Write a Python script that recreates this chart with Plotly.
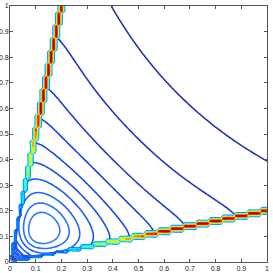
import numpy as np
import plotly.graph_objects as go

# ---- data ----
grid_step = 0.01          # sampling step of the surface (gives the stair-steps of the walls)
wall_ratio = 5.0          # walls along y = 5x and y = x/5
log_coef = 0.145          # surface shape parameters (minimum near x = y = 0.125)
log_shift = 0.02
ang_c = 0.18              # angular bulge of the level curves
ang_k = 0.85

# where the level curves cross the picture
ring_top_x = 0.125
ring_tops_y = [0.194, 0.23, 0.27, 0.32, 0.38, 0.455]      # closed curves, top points
open_diag = [0.345, 0.40, 0.49, 0.655]                     # open curves, crossing of y = x
level_colors = ["#2f7df7", "#2a72f5", "#2466f2", "#1f5aee", "#1c50e8", "#1b48e0",
                "#1d42d6", "#203ecb", "#2339bd", "#2636ae"]

# dense bundle in the corner (crossings of y = x)
corner_diag = [0.022, 0.027, 0.032, 0.037]
corner_color = "#1f55f2"
corner_gap = 0.12

# wall band (jet coloured ridge)
band_levels = [0.25, 0.35, 0.45, 0.55, 0.65, 0.75, 0.85, 0.95]
band_full_at = 0.6
band_min = 0.3
band_side = 0.35

tick_vals = [0, 0.1, 0.2, 0.3, 0.4, 0.5, 0.6, 0.7, 0.8, 0.9, 1]
tick_text = ["0", "0.1", "0.2", "0.3", "0.4", "0.5", "0.6", "0.7", "0.8", "0.9", "1"]

# ---- surface ----
LQ = np.log(wall_ratio)
xc = log_coef - log_shift
gmin = 2 * (xc - log_coef * np.log(xc + log_shift))

def surf(x, y):
    x = np.maximum(x, 1e-9)
    y = np.maximum(y, 1e-9)
    g = x + y - log_coef * (np.log(x + log_shift) + np.log(y + log_shift))
    lq = np.log(y / x)
    bt = ang_c * lq**2 * (1 - ang_k * lq**2 / (2 * LQ**2))
    return (g - gmin) * (1 - bt)

def corner(x, y):
    x = np.maximum(x, 1e-9)
    y = np.maximum(y, 1e-9)
    lq = np.log(y / x)
    return ((LQ + corner_gap) ** 2 - lq**2) * (x + y) ** 2

levels = [float(surf(ring_top_x, yt)) for yt in ring_tops_y] + \
         [float(surf(t, t)) for t in open_diag]
corner_levels = [float(corner(t, t)) for t in corner_diag]

n = int(round(1 / grid_step)) + 1
xs = np.linspace(0, 1, n)
ys = np.linspace(0, 1, n)
I, J = np.meshgrid(np.arange(n), np.arange(n))
X, Y = np.meshgrid(xs, ys)
iL = np.rint(J / wall_ratio)
jB = np.rint(I / wall_ratio)
ridge = ((I == iL) & (J >= I)) | ((J == jB) & (I >= J))
interior = (I > iL) & (J > jB)
BIG = 1000.0
z_int = np.where(interior | ridge, surf(X, Y), BIG)
z_cor = np.where(interior | ridge, corner(X, Y), BIG)

# ridge field for the wall band
z_band = np.zeros((n, n))
def hval(i, j):
    m = max(xs[i], ys[j])
    return min(max(m / band_full_at, band_min), 1.0)
for j in range(n):
    i0 = int(round(j / wall_ratio))
    if j >= i0:
        h = hval(i0, j)
        z_band[j, i0] = max(z_band[j, i0], h)
        for d in (-1, 1):
            ii = i0 + d
            if 0 <= ii < n:
                z_band[j, ii] = max(z_band[j, ii], band_side * h)
for i in range(n):
    j0 = int(round(i / wall_ratio))
    if i >= j0:
        h = hval(i, j0)
        z_band[j0, i] = max(z_band[j0, i], h)
        for d in (-1, 1):
            jj = j0 + d
            if 0 <= jj < n:
                z_band[jj, i] = max(z_band[jj, i], band_side * h)

# MATLAB jet
jet_stops = [(0.0, (0, 0, 128)), (0.11, (0, 0, 255)), (0.125, (0, 0, 255)),
             (0.375, (0, 255, 255)), (0.625, (255, 255, 0)),
             (0.875, (255, 0, 0)), (1.0, (128, 0, 0))]
def jet(v):
    for (p0, c0), (p1, c1) in zip(jet_stops[:-1], jet_stops[1:]):
        if p0 <= v <= p1:
            t = 0 if p1 == p0 else (v - p0) / (p1 - p0)
            return "rgb(%d,%d,%d)" % tuple(round(c0[k] + t * (c1[k] - c0[k])) for k in range(3))
    return "rgb(128,0,0)"
b0, b1 = band_levels[0], band_levels[-1]
band_cs = [[(v - b0) / (b1 - b0), jet(v)] for v in band_levels]

fig = go.Figure()
for lev, col in zip(levels, level_colors):
    fig.add_trace(go.Contour(
        x=xs, y=ys, z=z_int,
        contours=dict(start=lev, end=lev, size=1, coloring="none"),
        line=dict(color=col, width=1.6),
        showscale=False, hoverinfo="skip"))
for lev in corner_levels:
    fig.add_trace(go.Contour(
        x=xs, y=ys, z=z_cor,
        contours=dict(start=lev, end=lev, size=1, coloring="none"),
        line=dict(color=corner_color, width=1.4),
        showscale=False, hoverinfo="skip"))

fig.add_trace(go.Contour(
    x=xs, y=ys, z=z_band,
    contours=dict(start=b0, end=b1, size=band_levels[1] - band_levels[0], coloring="lines"),
    colorscale=band_cs, zmin=b0, zmax=b1,
    line=dict(width=1.3),
    showscale=False, hoverinfo="skip"))

axis_common = dict(
    range=[0, 1], tickvals=tick_vals, ticktext=tick_text,
    ticks="inside", ticklen=3, tickcolor="#555", mirror="ticks",
    showline=True, linecolor="#555", linewidth=1, showgrid=False, zeroline=False,
    tickfont=dict(size=7, color="#222", family="Liberation Sans"),
    automargin=False,
)
fig.update_xaxes(**axis_common)
fig.update_yaxes(**axis_common, ticklabelstandoff=-1)
fig.update_layout(
    width=273, height=273,
    margin=dict(l=10, r=6, t=6, b=11),
    paper_bgcolor="white", plot_bgcolor="white",
    showlegend=False,
)
fig.write_html("out.html", config={"displayModeBar": False},
               post_script="document.body.style.margin='0';document.body.style.overflow='hidden';")
